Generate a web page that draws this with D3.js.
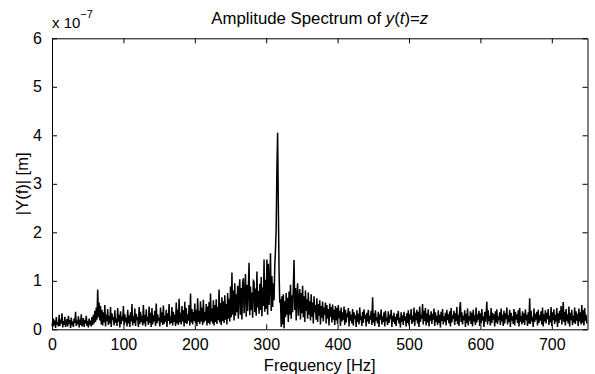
<!DOCTYPE html>
<html><head><meta charset="utf-8">
<script src="https://cdn.jsdelivr.net/npm/d3@7"></script>
<style>body{margin:0;background:#fff}svg{display:block}text{font-family:"Liberation Sans",Arial,Helvetica,sans-serif;fill:#000}</style>
</head><body><svg id="c" width="595" height="374"></svg>
<script>
// Frequency start / step (Hz) and amplitude values in units of 1e-7 m
const freqStart = 0;
const freqStep = 1;
const amplitude = [
0.12,0.05,0.22,0.08,0.18,0.03,0.25,0.10,0.15,0.06,
0.30,0.07,0.20,0.12,0.33,0.04,0.17,0.09,0.26,0.05,
0.14,0.21,0.06,0.28,0.11,0.19,0.03,0.24,0.08,0.16,
0.05,0.22,0.13,0.36,0.07,0.18,0.10,0.27,0.04,0.20,
0.09,0.31,0.06,0.15,0.23,0.05,0.19,0.12,0.28,0.07,
0.17,0.04,0.22,0.10,0.14,0.06,0.25,0.09,0.30,0.12,
0.38,0.15,0.45,0.20,0.82,0.25,0.55,0.18,0.48,0.10,
0.40,0.08,0.35,0.14,0.50,0.06,0.30,0.17,0.42,0.09,
0.28,0.12,0.46,0.05,0.33,0.19,0.25,0.08,0.39,0.13,
0.22,0.07,0.44,0.15,0.30,0.04,0.37,0.11,0.26,0.18,
0.48,0.09,0.31,0.14,0.24,0.06,0.40,0.12,0.29,0.05,
0.35,0.16,0.52,0.08,0.27,0.13,0.43,0.07,0.32,0.19,
0.25,0.05,0.46,0.11,0.36,0.15,0.28,0.08,0.50,0.12,
0.30,0.06,0.41,0.17,0.26,0.09,0.47,0.13,0.34,0.05,
0.44,0.10,0.29,0.16,0.38,0.07,0.53,0.12,0.31,0.18,
0.24,0.06,0.45,0.14,0.35,0.09,0.49,0.11,0.28,0.15,
0.40,0.05,0.33,0.17,0.52,0.10,0.27,0.13,0.46,0.08,
0.36,0.15,0.30,0.07,0.55,0.12,0.41,0.09,0.63,0.14,
0.34,0.10,0.48,0.16,0.39,0.06,0.57,0.13,0.44,0.11,
0.31,0.18,0.50,0.08,0.74,0.14,0.42,0.10,0.36,0.17,
0.53,0.12,0.40,0.07,0.64,0.15,0.38,0.11,0.58,0.16,
0.45,0.09,0.61,0.14,0.35,0.18,0.52,0.08,0.47,0.13,
0.56,0.10,0.74,0.16,0.43,0.12,0.60,0.08,0.50,0.15,
0.62,0.11,0.46,0.19,0.82,0.14,0.54,0.09,0.66,0.17,
0.58,0.13,0.70,0.20,0.52,0.10,0.75,0.22,0.63,0.16,
0.88,0.25,1.17,0.30,0.80,0.18,0.95,0.28,0.72,0.35,
0.90,0.22,0.78,1.03,0.30,0.85,0.20,0.96,1.05,0.33,
0.74,1.14,0.26,0.92,0.38,0.82,1.37,0.29,0.88,0.40,
0.76,0.24,1.00,0.98,0.35,0.84,0.28,1.19,0.45,0.79,
0.32,0.94,0.40,1.08,0.27,0.86,0.48,1.44,0.36,1.02,
0.42,1.44,0.30,1.35,0.50,0.90,1.57,0.38,1.10,0.46,
0.95,0.60,1.30,1.63,2.10,3.30,4.05,2.55,1.20,0.55,
0.62,0.05,0.68,0.10,0.72,0.02,0.58,0.25,0.75,0.30,
0.65,0.15,0.78,0.30,0.92,0.22,0.70,0.35,0.88,1.43,
0.40,0.85,0.18,0.72,0.95,0.28,0.60,0.83,0.20,0.75,
0.33,0.90,0.25,0.68,0.15,0.80,0.38,0.62,0.22,0.76,
0.30,0.58,0.18,0.72,0.26,0.55,0.12,0.68,0.35,0.50,
0.20,0.64,0.15,0.52,0.28,0.60,0.10,0.48,0.24,0.57,
0.16,0.45,0.30,0.55,0.12,0.50,0.22,0.42,0.08,0.53,
0.26,0.46,0.14,0.51,0.20,0.40,0.09,0.48,0.18,0.44,
0.11,0.50,0.23,0.38,0.07,0.45,0.16,0.35,0.20,0.47,
0.09,0.40,0.14,0.33,0.25,0.44,0.06,0.37,0.18,0.30,
0.12,0.42,0.08,0.35,0.21,0.29,0.05,0.39,0.15,0.32,
0.10,0.45,0.19,0.27,0.07,0.36,0.13,0.41,0.22,0.30,
0.06,0.34,0.16,0.40,0.11,0.28,0.20,0.38,0.09,0.66,
0.14,0.33,0.07,0.39,0.18,0.25,0.12,0.36,0.05,0.31,
0.20,0.41,0.10,0.27,0.15,0.35,0.06,0.38,0.17,0.24,
0.09,0.37,0.13,0.30,0.21,0.40,0.05,0.28,0.16,0.34,
0.11,0.26,0.07,0.32,0.19,0.38,0.12,0.24,0.04,0.35,
0.15,0.29,0.09,0.36,0.18,0.27,0.06,0.33,0.13,0.39,
0.08,0.31,0.20,0.42,0.11,0.28,0.16,0.45,0.07,0.34,
0.19,0.40,0.12,0.36,0.05,0.47,0.15,0.30,0.22,0.52,
0.10,0.38,0.17,0.44,0.08,0.33,0.14,0.41,0.06,0.29,
0.18,0.37,0.11,0.32,0.20,0.43,0.07,0.35,0.15,0.28,
0.09,0.39,0.13,0.30,0.04,0.36,0.17,0.42,0.10,0.27,
0.16,0.34,0.08,0.40,0.19,0.31,0.12,0.37,0.06,0.44,
0.14,0.29,0.21,0.38,0.09,0.33,0.17,0.46,0.11,0.30,
0.07,0.41,0.56,0.15,0.35,0.10,0.28,0.19,0.39,0.05,
0.32,0.13,0.43,0.08,0.27,0.18,0.37,0.11,0.34,0.06,
0.40,0.16,0.29,0.09,0.45,0.14,0.31,0.20,0.38,0.07,
0.33,0.12,0.42,0.18,0.27,0.05,0.36,0.15,0.30,0.57,
0.10,0.39,0.17,0.28,0.08,0.44,0.13,0.34,0.20,0.31,
0.06,0.37,0.14,0.41,0.11,0.26,0.19,0.35,0.09,0.43,
0.16,0.30,0.07,0.38,0.12,0.33,0.21,0.45,0.10,0.29,
0.15,0.40,0.05,0.34,0.18,0.27,0.11,0.42,0.08,0.36,
0.20,0.31,0.13,0.39,0.06,0.44,0.16,0.28,0.10,0.37,
0.14,0.33,0.09,0.41,0.19,0.30,0.07,0.35,0.12,0.64,
0.11,0.38,0.17,0.26,0.05,0.43,0.15,0.32,0.20,0.36,
0.08,0.40,0.13,0.29,0.18,0.37,0.10,0.45,0.06,0.31,
0.16,0.39,0.12,0.34,0.21,0.42,0.09,0.28,0.14,0.46,
0.07,0.35,0.19,0.41,0.11,0.30,0.16,0.44,0.05,0.33,
0.13,0.38,0.20,0.48,0.10,0.29,0.56,0.15,0.36,0.08,
0.42,0.17,0.31,0.12,0.47,0.06,0.34,0.19,0.40,0.09,
0.28,0.14,0.45,0.11,0.37,0.18,0.32,0.07,0.43,0.16,
0.35,0.10,0.50,0.13,0.39,0.08,0.44,0.18,0.30,0.12
];
const xTicks = [0,100,200,300,400,500,600,700];
const yTicks = [0,1,2,3,4,5,6];
const titleText = "Amplitude Spectrum of ";
const xLabel = "Frequency [Hz]";
const yLabel = "|Y(f)| [m]";

const svg = d3.select("#c");
const L = 52, R = 587.5, T = 38.3, B = 329.3;
const x = d3.scaleLinear().domain([0, 750]).range([L, R]);
const y = d3.scaleLinear().domain([0, 6]).range([B, T]);

const data = amplitude.map((v, i) => ({f: freqStart + i * freqStep, v}));

// data line
svg.append("path")
  .datum(data)
  .attr("fill", "none")
  .attr("stroke", "#000")
  .attr("stroke-width", 1.5)
  .attr("stroke-linejoin", "miter")
  .attr("d", d3.line().x(d => x(d.f)).y(d => y(d.v)));

// axes (ticks inward, all four sides)
const fs = "16px";
const gB = svg.append("g").attr("transform", `translate(0,${B})`)
  .call(d3.axisBottom(x).tickValues(xTicks).tickSizeInner(-5).tickSizeOuter(0).tickPadding(9).tickFormat(d3.format("d")));
const gT = svg.append("g").attr("transform", `translate(0,${T})`)
  .call(d3.axisTop(x).tickValues(xTicks).tickSizeInner(-5).tickSizeOuter(0).tickFormat(""));
const gL = svg.append("g").attr("transform", `translate(${L},0)`)
  .call(d3.axisLeft(y).tickValues(yTicks).tickSizeInner(-5).tickSizeOuter(0).tickPadding(10).tickFormat(d3.format("d")));
const gR = svg.append("g").attr("transform", `translate(${R},0)`)
  .call(d3.axisRight(y).tickValues(yTicks).tickSizeInner(-5).tickSizeOuter(0).tickFormat(""));
[gB, gT, gL, gR].forEach(g => {
  g.selectAll("path.domain").attr("stroke", "#000").attr("stroke-width", 1);
  g.selectAll("line").attr("stroke", "#000");
  g.selectAll("text").style("font-size", fs).style("font-family", '"Liberation Sans",Arial,sans-serif').attr("fill", "#000");
});
gB.selectAll("text").attr("dy", "0.71em");

// exponent label
const ex = svg.append("text").attr("x", 52).attr("y", 28).style("font-size", "15px");
ex.append("tspan").text("x 10");
ex.append("tspan").attr("dy", -10).style("font-size", "11px").text("\u22127");

// title
const t = svg.append("text").attr("x", (L + R) / 2).attr("y", 24)
  .attr("text-anchor", "middle").style("font-size", "16.8px");
t.append("tspan").text(titleText);
t.append("tspan").style("font-style", "italic").text("y");
t.append("tspan").text("(");
t.append("tspan").style("font-style", "italic").text("t");
t.append("tspan").text(")=");
t.append("tspan").style("font-style", "italic").text("z");

// axis labels
svg.append("text").attr("x", (L + R) / 2).attr("y", 371)
  .attr("text-anchor", "middle").style("font-size", "16.5px").text(xLabel);
svg.append("text").attr("transform", `translate(28,${(T + B) / 2}) rotate(-90)`)
  .attr("text-anchor", "middle").style("font-size", "16.5px").text(yLabel);
</script></body></html>
